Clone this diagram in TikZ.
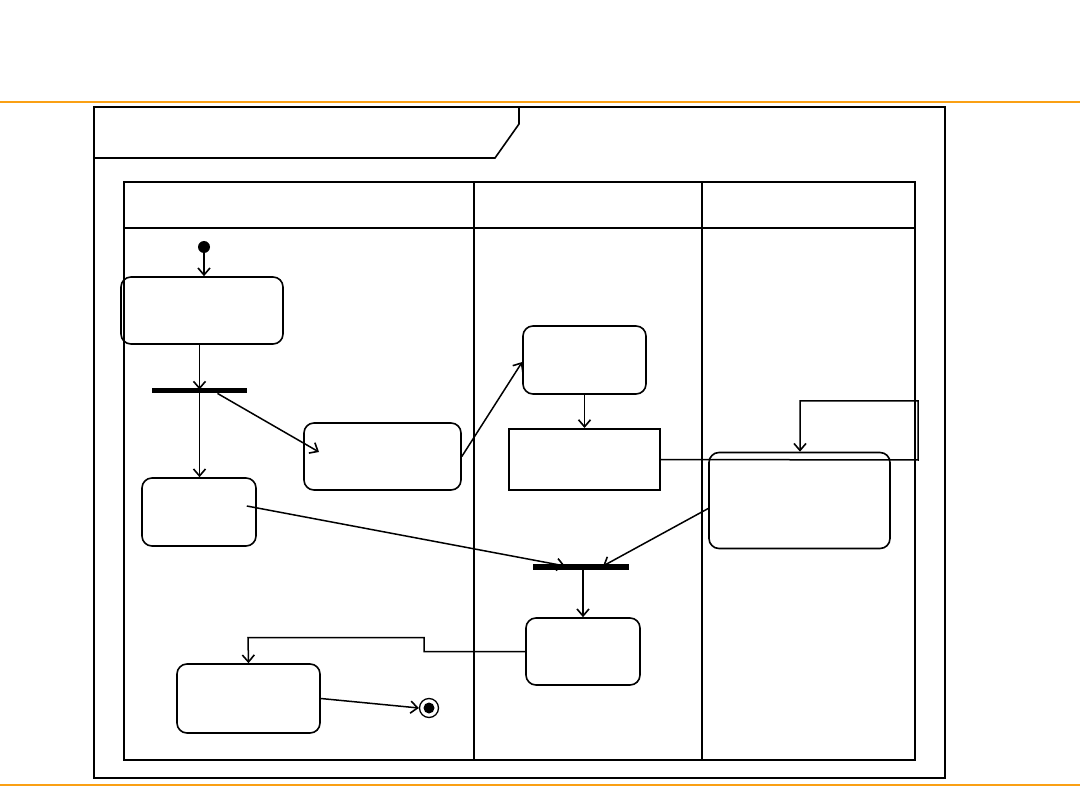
\documentclass[tikz,border=0pt]{standalone}
\usetikzlibrary{arrows.meta}
\definecolor{bandorange}{RGB}{250,160,20}
\begin{document}
\begin{tikzpicture}[x=1pt,y=-1pt,
  act/.style={draw, rounded corners=10pt, line width=1.6pt, inner sep=0pt, minimum width=#1},
  act/.default=100pt,
  plainbox/.style={draw, line width=2pt, inner sep=0pt},
  bar/.style={fill=black, inner sep=0pt, minimum width=95pt, minimum height=5.5pt},
  conn/.style={line width=1.5pt, -{Straight Barb[length=7pt,width=12pt,line width=1.6pt]}},
  frame/.style={line width=1.6pt},
  lane/.style={line width=2.2pt}]
\useasboundingbox (0,0) rectangle (1080,810);
% orange bands
\draw[bandorange, line width=2.5pt] (0,102) -- (1080,102);
\draw[bandorange, line width=2.5pt] (0,785) -- (1080,785);
% outer frame
\draw[frame] (94,107) rectangle (945,778);
\draw[frame] (94,158) -- (495,158) -- (519,124) -- (519,107);
% swimlanes
\draw[lane] (124,182) rectangle (915,760);
\draw[lane] (124,228) -- (915,228);
\draw[lane] (474,182) -- (474,760);
\draw[lane] (702,182) -- (702,760);
% nodes
\node[circle, fill=black, minimum size=12pt, inner sep=0pt] (init) at (204,247) {};
\node[act, minimum width=162pt, minimum height=67pt] (b1) at (202,310.5) {};
\node[bar] (f1) at (199.5,390.5) {};
\node[act, minimum width=114pt, minimum height=68pt] (b3) at (199,512) {};
\node[act, minimum width=157pt, minimum height=67pt] (b2) at (382.5,456.5) {};
\node[act, minimum width=123pt, minimum height=68pt] (b4) at (584.5,360) {};
\node[plainbox, minimum width=151pt, minimum height=61pt] (b5) at (584.5,459.5) {};
\node[act, minimum width=181pt, minimum height=96pt] (b6) at (799.5,500.5) {};
\node[bar, minimum width=96pt] (f2) at (581,567) {};
\node[act, minimum width=114pt, minimum height=67pt] (b7) at (583,651.5) {};
\node[act, minimum width=143pt, minimum height=69pt] (b8) at (248.5,698.5) {};
\node[circle, draw, line width=1.3pt, minimum size=19pt, inner sep=0pt] (fin) at (429,708) {};
\node[circle, fill=black, minimum size=11pt, inner sep=0pt] at (fin.center) {};
% helper coordinates
\coordinate (b2in) at (319,452);
\coordinate (f2a) at (565,566);
\coordinate (f2b) at (603,566);
% connectors
\draw[conn] (init) -- (b1.north -| init);
\draw[conn] (b1.south -| f1) -- ([yshift=-2pt]f1.north);
\draw[conn] (f1.south) -- (b3.north -| f1);
\draw[conn] ([xshift=18pt]f1.south) -- (b2in);
\draw[conn] (b2.east) -- ([yshift=-2pt]b4.west);
\draw[conn] (b4.south) -- (b5.north -| b4);
\draw[conn] (b5.east) -- (918,460) -- (918,401) -- (800,401) -- (b6.north -| 800,0);
\draw[conn] ([xshift=-10pt,yshift=6pt]b3.east) -- (f2a);
\draw[conn] ([yshift=-8pt]b6.west) -- (f2b);
\draw[conn] (f2.south -| b7) -- (b7.north);
\draw[conn] (b7.west) -- (424,651.5) -- (424,637.5) -- (248,637.5) -- (b8.north);
\draw[conn] (b8.east) -- (fin.west);
\end{tikzpicture}
\end{document}
